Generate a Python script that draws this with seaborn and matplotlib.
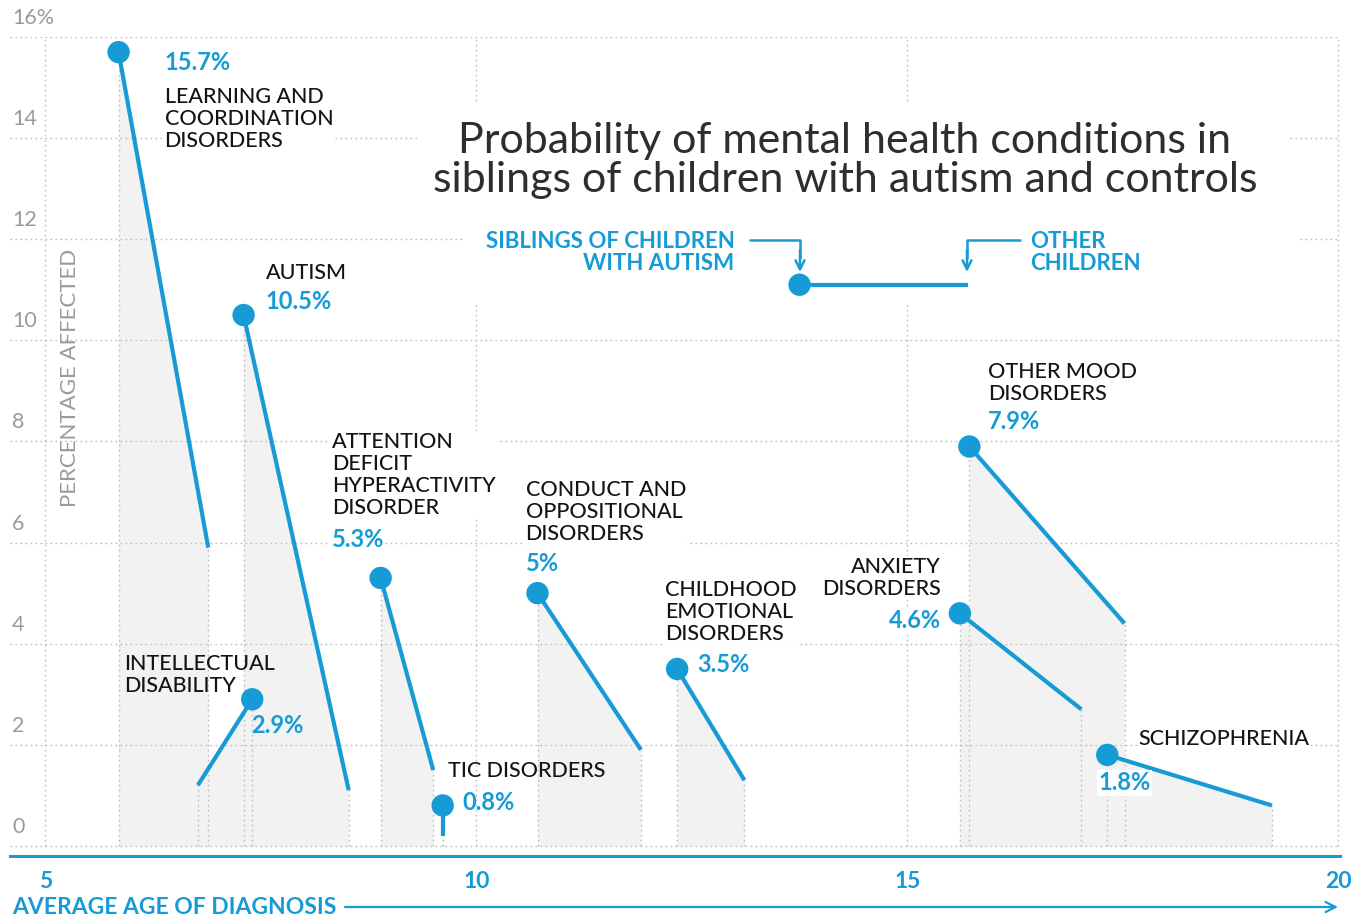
import matplotlib
matplotlib.use("Agg")
import matplotlib.pyplot as plt
from matplotlib.patches import Rectangle
from matplotlib.lines import Line2D
from matplotlib.transforms import IdentityTransform
import numpy as np
import pandas as pd
import seaborn as sns

# ---- data -------------------------------------------------------------
conditions = [
    "LEARNING AND\nCOORDINATION\nDISORDERS",
    "AUTISM",
    "INTELLECTUAL\nDISABILITY",
    "ATTENTION\nDEFICIT\nHYPERACTIVITY\nDISORDER",
    "TIC DISORDERS",
    "CONDUCT AND\nOPPOSITIONAL\nDISORDERS",
    "CHILDHOOD\nEMOTIONAL\nDISORDERS",
    "ANXIETY\nDISORDERS",
    "OTHER MOOD\nDISORDERS",
    "SCHIZOPHRENIA",
]
# siblings of children with autism
sib_age = [5.85, 7.30, 7.40, 8.89, 9.61, 10.71, 12.33, 15.61, 15.72, 17.32]
sib_pct = [15.7, 10.5, 2.9, 5.3, 0.8, 5.0, 3.5, 4.6, 7.9, 1.8]
# other children
oth_age = [6.89, 8.52, 6.77, 9.50, 9.61, 11.91, 13.11, 17.02, 17.52, 19.23]
oth_pct = [5.9, 1.1, 1.2, 1.5, 0.2, 1.9, 1.3, 2.7, 4.4, 0.8]
value_labels = ["15.7%", "10.5%", "2.9%", "5.3%", "0.8%", "5%", "3.5%",
                "4.6%", "7.9%", "1.8%"]

# key in the upper right
key_age = [13.75, 15.71]
key_pct = [11.1, 11.1]

y_ticks = [0, 2, 4, 6, 8, 10, 12, 14, 16]
y_tick_labels = ["0", "2", "4", "6", "8", "10", "12", "14", "16%"]
x_ticks = list(range(5, 21))
x_tick_labels = ["5", "", "", "", "", "10", "", "", "", "", "15", "", "", "", "", "20"]

# ---- style ------------------------------------------------------------
BLUE = "#179bd6"
GREY_TXT = "#9a9a9a"
SHADE = "#f2f2f2"
GRID = "#bdbdbd"
TEXT = "#141414"

sns.set_theme(style="white")
plt.rcParams["font.family"] = ["Lato", "DejaVu Sans"]

W, H = 1355, 918
fig = plt.figure(figsize=(W / 100, H / 100), dpi=100)
ax = fig.add_axes([10 / W, 62 / H, 1330 / W, 819 / H])
ax.set_xlim(4.59, 20.02)
ax.set_ylim(-0.2, 16.0)

for s in ["top", "right", "left"]:
    ax.spines[s].set_visible(False)
ax.spines["bottom"].set_color(BLUE)
ax.spines["bottom"].set_linewidth(2.2)
ax.set_xticks(x_ticks)
ax.set_xticklabels(x_tick_labels)
ax.tick_params(axis="x", direction="out", length=10, width=1.8, color=BLUE,
               labelcolor=BLUE, labelsize=16.5, pad=1)
for lab in ax.get_xticklabels():
    lab.set_fontweight("bold")
ax.set_yticks([])

dots = (0, (1.2, 2.4))
# horizontal grid
for v in y_ticks:
    ax.axhline(v, color=GRID, lw=1.0, ls=dots, zorder=2)
# vertical grid at labelled ages
for a in [5, 10, 15, 20]:
    ax.vlines(a, 0, 16, color=GRID, lw=1.0, ls=dots, zorder=2)

# y tick labels sit just above their grid line
for v, lab in zip(y_ticks, y_tick_labels):
    ax.annotate(lab, xy=(4.59, v), xytext=(2, 19), textcoords="offset pixels",
                ha="left", va="center", fontsize=15.5, color=GREY_TXT,
                annotation_clip=False)

# ---- shaded areas and dotted edges -----------------------------------
for x1, y1, x2, y2 in zip(sib_age, sib_pct, oth_age, oth_pct):
    xs = np.array([x1, x2])
    ys = np.array([y1, y2])
    order = np.argsort(xs)
    ax.fill_between(xs[order], ys[order], 0, color=SHADE, lw=0, zorder=1)
    ax.vlines([x1, x2], 0, [y1, y2], color=GRID, lw=1.0, ls=dots, zorder=2)


# white panels behind the title and the key (pixel coordinates, top-down)
def px_rect(x0, y0, x1, y1):
    r = Rectangle((x0, H - y1), x1 - x0, y1 - y0, transform=IdentityTransform(),
                  facecolor="white", edgecolor="none", zorder=2.5)
    r.set_clip_on(False)
    return r


ax.add_patch(px_rect(417, 104, 1290, 205))
ax.add_patch(px_rect(463, 205, 1300, 305))

# ---- lines and dots via seaborn --------------------------------------
rows = []
for c, x1, y1, x2, y2 in zip(conditions, sib_age, sib_pct, oth_age, oth_pct):
    rows.append({"condition": c, "group": "siblings", "age": x1, "pct": y1})
    rows.append({"condition": c, "group": "others", "age": x2, "pct": y2})
rows.append({"condition": "key", "group": "siblings", "age": key_age[0], "pct": key_pct[0]})
rows.append({"condition": "key", "group": "others", "age": key_age[1], "pct": key_pct[1]})
df = pd.DataFrame(rows)

sns.lineplot(data=df, x="age", y="pct", units="condition", estimator=None,
             sort=False, color=BLUE, lw=3.0, ax=ax, zorder=3,
             solid_capstyle="butt")
sns.scatterplot(data=df[df["group"] == "siblings"], x="age", y="pct",
                color=BLUE, s=260, edgecolor="none", ax=ax, zorder=4,
                clip_on=False)
ax.set_xlabel("")
ax.set_ylabel("")

# ---- labels ----------------------------------------------------------
# (name offset, name ha, white box, value offset, value ha) in pixels
label_layout = [
    ((46, -67), "left", True, (46, -10), "left"),
    ((22, 42), "left", True, (22, 14), "left"),
    ((-128, 24.5), "left", False, (-1, -26), "left"),
    ((-49, 103), "left", True, (-49, 38), "left"),
    ((5, 34), "left", False, (20, 3), "left"),
    ((-12, 81.5), "left", True, (-12, 30), "left"),
    ((-12, 57), "left", True, (20, 4), "left"),
    ((-19, 35.5), "right", True, (-19, -7), "right"),
    ((19, 63.5), "left", True, (19, 25), "left"),
    ((31, 16), "left", True, (-9, -28), "left"),
]
for c, x, y, vl, lay in zip(conditions, sib_age, sib_pct, value_labels, label_layout):
    (nx, ny), nha, boxed, (vx, vy), vha = lay
    bbox = dict(facecolor="white", edgecolor="none", pad=1) if boxed else None
    ax.annotate(c, xy=(x, y), xytext=(nx, ny), textcoords="offset pixels",
                ha=nha, va="center", fontsize=15.5, fontweight="medium",
                color=TEXT, linespacing=1.12, zorder=5, bbox=bbox)
    ax.annotate(vl, xy=(x, y), xytext=(vx, vy), textcoords="offset pixels",
                ha=vha, va="center", fontsize=17, color=BLUE,
                fontweight="bold", zorder=5, bbox=bbox)

# ---- title and key ---------------------------------------------------
ax.annotate("Probability of mental health conditions in\nsiblings of children with autism and controls",
            xy=(845, H - 160.5), xycoords="figure pixels",
            ha="center", va="center", fontsize=31, fontweight="normal",
            color="#2e2e2e", linespacing=1.05, zorder=6)

ax.annotate("SIBLINGS OF CHILDREN\nWITH AUTISM", xy=(key_age[0], key_pct[0]),
            xytext=(-65, 32.5), textcoords="offset pixels", ha="right",
            va="center", fontsize=16, fontweight="bold", color=BLUE,
            linespacing=1.08, zorder=6)
ax.annotate("OTHER\nCHILDREN", xy=(key_age[1], key_pct[1]),
            xytext=(62, 32.5), textcoords="offset pixels", ha="left",
            va="center", fontsize=16, fontweight="bold", color=BLUE,
            linespacing=1.08, zorder=6)


def fig_px(x, y):
    return (x, H - y)


# elbow connectors from the key text down to the key marks
for (x0, xe) in [(750, 800), (1020, 967)]:
    elbow = Line2D([x0, xe, xe], [H - 240, H - 240, H - 258],
                   transform=IdentityTransform(), color=BLUE, lw=1.8, zorder=6)
    elbow.set_clip_on(False)
    ax.add_line(elbow)
    ax.annotate("", xy=fig_px(xe, 272), xycoords="figure pixels",
                xytext=fig_px(xe, 250), textcoords="figure pixels",
                arrowprops=dict(arrowstyle="->", color=BLUE, lw=1.8,
                                mutation_scale=16, shrinkA=0, shrinkB=0),
                zorder=6)

# axis titles
fig.text(12 / W, 1 - 907 / H, "AVERAGE AGE OF DIAGNOSIS", ha="left",
         va="center", fontsize=16.5, fontweight="bold", color=BLUE)
ax.annotate("", xy=fig_px(1338, 907), xycoords="figure pixels",
            xytext=fig_px(345, 907), textcoords="figure pixels",
            arrowprops=dict(arrowstyle="->", color=BLUE, lw=1.6,
                            mutation_scale=18, shrinkA=0, shrinkB=0))
fig.text(70 / W, 1 - 378 / H, "PERCENTAGE AFFECTED", rotation=90,
         ha="center", va="center", fontsize=16, color=GREY_TXT)

fig.savefig("out.png", dpi=100, facecolor="white")
